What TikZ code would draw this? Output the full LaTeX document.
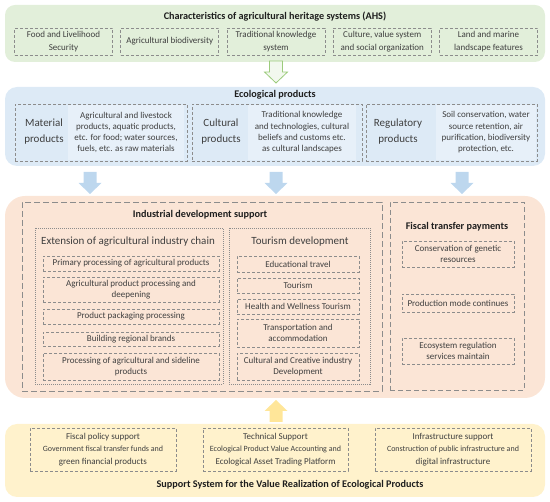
\documentclass[tikz,border=0pt]{standalone}
\usepackage{fontspec}
\setmainfont{Carlito}

\definecolor{greenpanel}{HTML}{E2EFDA}
\definecolor{greenfill}{HTML}{F2F8EE}
\definecolor{greenarrow}{HTML}{9CCB7C}
\definecolor{bluepanel}{HTML}{DDEAF6}
\definecolor{bluedesc}{HTML}{E7F0F9}
\definecolor{bluearrow}{HTML}{BDD7EE}
\definecolor{orangepanel}{HTML}{FBE5D6}
\definecolor{yellowpanel}{HTML}{FFF2CC}
\definecolor{yellowarrow}{HTML}{FFE699}
\definecolor{linegray}{HTML}{8C8C8C}
\definecolor{textgray}{HTML}{3F3F3F}
\definecolor{headcolor}{HTML}{1E1E1E}

\begin{document}
\begin{tikzpicture}[x=1pt,y=-1pt,
    panel/.style={rounded corners=10pt, minimum width=540pt, inner sep=0},
    heading/.style={font=\fontsize{10.2}{12}\selectfont\bfseries, text=headcolor, inner sep=0},
    subheading/.style={font=\fontsize{11}{13}\selectfont, text=textgray, inner sep=0},
    dbox/.style={draw=linegray, dash pattern=on 3pt off 2pt, line width=0.6pt, inner sep=0,
        align=center, text=textgray, font=\fontsize{9}{13.5}\selectfont},
    ibox/.style={dbox, font=\fontsize{9}{11.5}\selectfont},
    dotbox/.style={draw=linegray, dash pattern=on 1pt off 1pt, line width=0.6pt, inner sep=0},
    longdash/.style={draw=linegray, dash pattern=on 6pt off 3pt, line width=0.6pt, inner sep=0},
    fdash/.style={draw=linegray, dash pattern=on 5pt off 3pt, line width=0.6pt, inner sep=0},
    kind/.style={align=center, text=textgray, font=\fontsize{11}{16}\selectfont, inner sep=0},
    desc/.style={fill=bluedesc, minimum height=55pt, align=center, text=textgray,
        font=\fontsize{9}{11.3}\selectfont, inner sep=0},
    blockdown/.pic={\path[pic actions] (-6.5,0) -- (6.5,0) -- (6.5,11) -- (11.5,11)
        -- (0,22) -- (-11.5,11) -- (-6.5,11) -- cycle;},
  ]
\useasboundingbox (0,0) rectangle (550,502);

% characteristics of AHS
\node (ahs) [panel, fill=greenpanel, minimum height=57pt] at (275,33.5) {};
\node (ahstitle) [heading] at (275,17) {Characteristics of agricultural heritage systems (AHS)};
\foreach \i/\txt in {0/{Food and Livelihood\\Security}, 1/{Agricultural biodiversity},
    2/{Traditional knowledge\\system}, 3/{Culture, value system\\and social organization},
    4/{Land and marine\\landscape features}}
    \node (ahs\i) [dbox, minimum width=98pt, minimum height=27pt] at (63.5+106.25*\i,41.5) {\txt};

\pic (arrgreen) [fill=greenfill, draw=greenarrow, line width=0.8pt] at (276,61) {blockdown};

% ecological products
\node (eco) [panel, fill=bluepanel, minimum height=79pt, rounded corners=12pt] at (275,126.5) {};
\node (ecotitle) [heading] at (275,95) {Ecological products};
\node (matdesc) [desc, minimum width=116pt] at (126,132.5)
    {Agricultural and livestock\\products, aquatic products,\\etc. for food; water sources,\\fuels, etc. as raw materials};
\node (culdesc) [desc, minimum width=108pt] at (302,132.5)
    {Traditional knowledge\\and technologies, cultural\\beliefs and customs etc.\\as cultural landscapes};
\node (regdesc) [desc, minimum width=100pt] at (486,132.5)
    {Soil conservation, water\\source retention, air\\purification, biodiversity\\protection, etc.};
\node (mat) [dbox, minimum width=172pt, minimum height=57pt] at (101,132.5) {};
\node (cul) [dbox, minimum width=170pt, minimum height=57pt] at (277,132.5) {};
\node (reg) [dbox, minimum width=171pt, minimum height=57pt] at (451.5,132.5) {};
\node (matlab) [kind] at (44,132) {Material\\products};
\node (cullab) [kind] at (221,132) {Cultural\\products};
\node (reglab) [kind] at (398,132) {Regulatory\\products};

\foreach \x [count=\n] in {90,276,462}
    \pic (arrblue\n) [fill=bluearrow] at (\x,172) {blockdown};

% industrial development and fiscal transfer
\node (dev) [panel, fill=orangepanel, minimum height=202pt, rounded corners=20pt] at (275,297) {};
\node (ind) [longdash, minimum width=360pt, minimum height=189pt] at (202,296.5) {};
\node (indtitle) [heading] at (200,215) {Industrial development support};
\node (chain) [dotbox, minimum width=188pt, minimum height=156pt] at (129,306) {};
\node (chaintitle) [subheading] at (128,242) {Extension of agricultural industry chain};
\node (tour) [dotbox, minimum width=141pt, minimum height=156pt] at (299.5,306) {};
\node (tourtitle) [subheading] at (300,242) {Tourism development};
\foreach \y/\h/\txt [count=\n] in {263.5/15/{Primary processing of agricultural products},
    289.5/25/{Agricultural product processing and\\deepening}, 316.5/15/{Product packaging processing},
    339/14/{Building regional brands}, 366.5/27/{Processing of agricultural and sideline\\products}}
    \node (chain\n) [ibox, minimum width=176pt, minimum height=\h*1pt] at (131,\y) {\txt};
\foreach \y/\h/\txt [count=\n] in {264/16/{Educational travel}, 285.5/15/{Tourism},
    306.5/15/{Health and Wellness Tourism}, 333/28/{Transportation and\\accommodation},
    366.5/27/{Cultural and Creative industry\\Development}}
    \node (tour\n) [ibox, minimum width=122pt, minimum height=\h*1pt] at (298,\y) {\txt};

\node (fisc) [fdash, minimum width=134pt, minimum height=188pt] at (457,296) {};
\node (fisctitle) [heading] at (457,227) {Fiscal transfer payments};
\foreach \y/\h/\txt [count=\n] in {254/26/{Conservation of genetic\\resources},
    303/18/{Production mode continues}, 351/26/{Ecosystem regulation\\services maintain}}
    \node (fisc\n) [ibox, minimum width=112pt, minimum height=\h*1pt] at (458,\y) {\txt};

\pic (arryellow) [rotate=180, fill=yellowarrow] at (276,422) {blockdown};

% support system
\node (sup) [panel, fill=yellowpanel, minimum height=73pt, rounded corners=12pt] at (275,460.5) {};
\node (suptitle) [heading] at (290,485) {Support System for the Value Realization of Ecological Products};
\begin{scope}[every node/.style={dbox, minimum height=43pt, font=\fontsize{9}{12.5}\selectfont}]
    \node (fpol) [minimum width=146pt] at (103,449.5)
        {Fiscal policy support\\\fontsize{8}{11}\selectfont Government fiscal transfer funds and\\green financial products};
    \node (tech) [minimum width=145pt] at (275.5,449.5)
        {Technical Support\\\fontsize{8}{11}\selectfont Ecological Product Value Accounting and\\Ecological Asset Trading Platform};
    \node (infra) [minimum width=156pt] at (453,449.5)
        {Infrastructure support\\\fontsize{8}{11}\selectfont Construction of public infrastructure and\\digital infrastructure};
\end{scope}
\end{tikzpicture}
\end{document}
